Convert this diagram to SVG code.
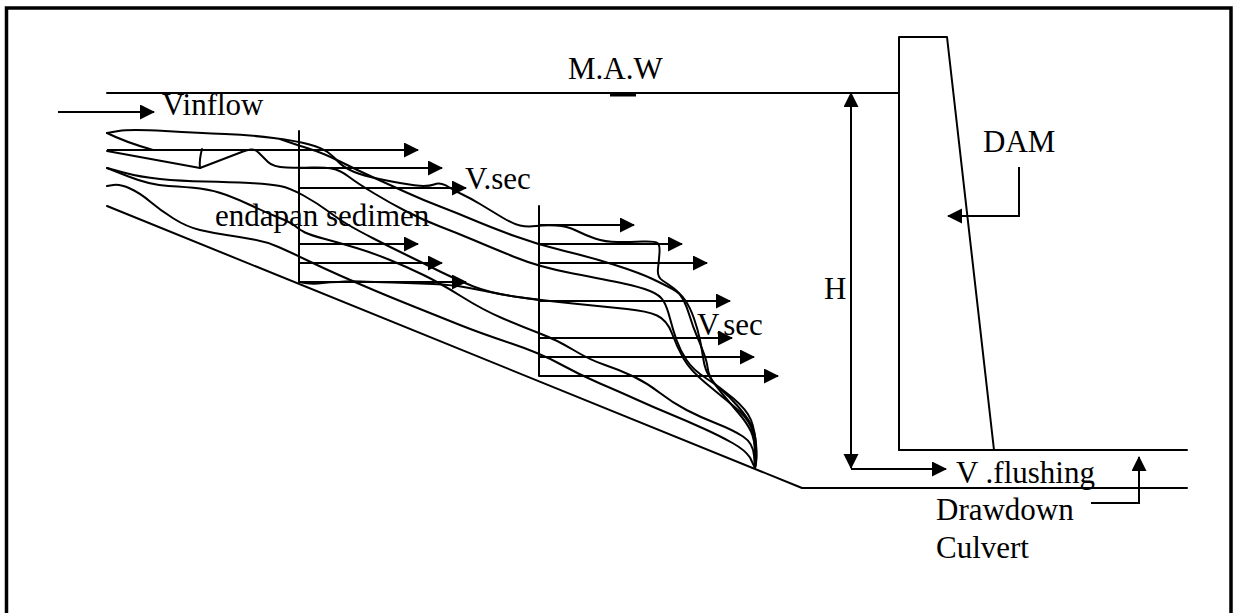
<svg xmlns="http://www.w3.org/2000/svg" width="1240" height="613" viewBox="0 0 1240 613">
  <style>
    .ln { fill: none; stroke: #000; stroke-width: 2; stroke-linejoin: round; stroke-linecap: round; }
    .ar { fill: none; stroke: #000; stroke-width: 2; marker-end: url(#head); }
    .lbl { font-family: "Liberation Serif", "Times New Roman", serif; font-size: 31px; fill: #000; }
  </style>
  <defs>
    <marker id="head" markerUnits="userSpaceOnUse" markerWidth="16" markerHeight="16" refX="14" refY="7.5" orient="auto">
      <path d="M0,0 L15,7.5 L0,15 z" fill="#000"/>
    </marker>
    <marker id="headStart" markerUnits="userSpaceOnUse" markerWidth="16" markerHeight="16" refX="14" refY="7.5" orient="auto-start-reverse">
      <path d="M0,0 L15,7.5 L0,15 z" fill="#000"/>
    </marker>
  </defs>

  <rect width="1240" height="613" fill="#fff"/>

  <!-- frame -->
  <rect id="frame" x="6.5" y="8" width="1224.5" height="640" fill="none" stroke="#000" stroke-width="3.5"/>

  <!-- reservoir water level and bed -->
  <g id="water-level">
    <line class="ln" x1="107" y1="93" x2="899" y2="93"/>
    <rect x="610" y="93" width="26" height="3.5" fill="#000"/>
    <text class="lbl" x="568" y="79">M.A.W</text>
  </g>
  <g id="bed">
    <polyline class="ln" points="107,206 802,488 1187,488"/>
  </g>

  <!-- dam body -->
  <g id="dam">
    <polyline class="ln" points="899,450 899,37 947,37 994,450"/>
    <line class="ln" x1="899" y1="450" x2="1187" y2="450"/>
    <text class="lbl" x="983" y="152">DAM</text>
  </g>

  <!-- sediment deposit layers -->
  <g id="sediment">
    <path class="ln" d="M107,133 L118.5,131 Q130,129 165,131 Q200,133 225,134 Q250,135 273.5,138 Q297,141 309.5,144.5 Q322,148 327.5,152 Q333,156 337.5,161 Q342,166 350,170 Q358,174 370.5,177 Q383,180 400,183 Q417,186 423.5,186 Q430,186 434,184.5 Q438,183 442,184 Q446,185 449.5,187.5 Q453,190 461.5,194 Q470,198 480,204 Q490,210 501.5,217 Q513,224 520,225.5 Q527,227 536,226 Q545,225 556,225.5 Q567,226 576,230.5 Q585,235 595,238.5 Q605,242 617.5,242 Q630,242 642.5,241.5 Q655,241 657.5,243 Q660,245 659.5,252.5 Q659,260 658,268.5 Q657,277 662.5,280.5 Q668,284 674,288.5 Q680,293 683.5,300 Q687,307 690,317 Q693,327 696.5,335 Q700,343 703.5,352.5 Q707,362 707.5,367 Q708,372 710.5,377.5 Q713,383 721.5,390 Q730,397 738.5,407 Q747,417 751,424.5 Q755,432 756,443.5 Q757,455 756,461.5 L755,468"/>
    <path class="ln" d="M107,133 Q125,142 153,150"/>
    <path class="ln" d="M280,139 L288.5,142 Q297,145 310,149 Q323,153 340,161.5 Q357,170 373.5,177.5 Q390,185 406.5,192.5 Q423,200 440,206.5 Q457,213 473.5,220 Q490,227 514.5,236 Q539,245 564.5,251 Q590,257 615,265 Q640,273 652.5,279 Q665,285 672.5,289 Q680,293 685,300 Q690,307 694,318.5 Q698,330 700,340 Q702,350 703.5,360 Q705,370 710,377.5 Q715,385 722.5,394 Q730,403 738.5,413 Q747,423 751,431.5 Q755,440 755,453.5 L755,467"/>
    <path class="ln" d="M107,151 L200,168"/>
    <path class="ln" d="M202,149 Q199,160 200,168"/>
    <path class="ln" d="M200,168 L243,151.5 Q247,150 251,149.5 Q255,149 259,153 Q263,157 268,162 Q273,167 286.5,167.5 Q300,168 311.5,167.5 Q323,167 331.5,168.5 Q340,170 348.5,176.5 Q357,183 373.5,193 Q390,203 406.5,211.5 Q423,220 440,226.5 Q457,233 473.5,240 Q490,247 514.5,257 Q539,267 573,273.5 Q607,280 623.5,283.5 Q640,287 650,291 Q660,295 663.5,301 Q667,307 670,318.5 Q673,330 676.5,340 Q680,350 686.5,360 Q693,370 706.5,378.5 Q720,387 733.5,398.5 Q747,410 751,420 Q755,430 756,446.5 Q757,463 755,468"/>
    <path class="ln" d="M107,168 L123.5,172.5 Q140,177 160,179 Q180,181 205,181.5 Q230,182 250,183 Q270,184 280,186 Q290,188 303.5,195.5 Q317,203 328.5,211.5 Q340,220 348.5,225 Q357,230 373.5,238.5 Q390,247 406.5,255 Q423,263 440,271.5 Q457,280 473.5,286.5 Q490,293 514.5,296.5 Q539,300 573,303.5 Q607,307 627,309 Q647,311 657,315.5 Q667,320 672,333.5 Q677,347 683.5,358.5 Q690,370 705,382.5 Q720,395 733.5,406 Q747,417 751,427 Q755,437 755,452.5 L755,468"/>
    <path class="ln" d="M107,168 L128.5,176.5 Q150,185 168.5,186 Q187,187 200,188.5 Q213,190 226.5,195 Q240,200 253.5,206.5 Q267,213 278.5,217.5 Q290,222 295,226 Q300,230 305,232.5 Q310,235 325,239 Q340,243 356.5,248 Q373,253 390,260 Q407,267 423.5,275 Q440,283 461.5,296.5 Q483,310 503,318.5 Q523,327 540,333.5 Q557,340 573.5,350 Q590,360 605,365 Q620,370 633.5,376.5 Q647,383 660,393 Q673,403 686.5,410 Q700,417 716.5,423.5 Q733,430 743,436.5 Q753,443 754,455.5 L755,468"/>
    <path class="ln" d="M107,186 L113.5,185 Q120,184 130,188.5 Q140,193 150,201.5 Q160,210 173.5,218.5 Q187,227 200,230 Q213,233 226.5,235 Q240,237 253.5,239.5 Q267,242 278.5,247 Q290,252 306.5,260 Q323,268 340,275.5 Q357,283 373.5,290 Q390,297 415,307 Q440,317 460,325 Q480,333 510,343 Q540,353 560,364 Q580,375 600,383.5 Q620,392 636.5,399.5 Q653,407 670,414 Q687,421 703.5,428.5 Q720,436 732.5,443 Q745,450 750,457.5 L755,468"/>
    <path class="ln" d="M299,282 Q312,285 322.5,283 Q330,282 338.5,282 Q347,281 360,281.5 Q373,282 393,282.5 Q413,283 433,284 Q453,285 466.5,287.5 Q480,290 495,293 Q510,296 524.5,298 L539,300"/>
    <text class="lbl" x="215" y="226">endapan sedimen</text>
  </g>

  <!-- velocity profile at first section -->
  <g id="profile-1">
    <line class="ln" x1="299" y1="131" x2="299" y2="282"/>
    <text class="lbl" x="465" y="189">V.sec</text>
  </g>

  <!-- velocity profile at second section -->
  <g id="profile-2">
    <line class="ln" x1="539" y1="206" x2="539" y2="376"/>
    <text class="lbl" x="697" y="335">V.sec</text>
  </g>

  <g id="inflow">
    <text class="lbl" x="162" y="115">Vinflow</text>
  </g>

  <g id="head-h">
    <text class="lbl" x="824" y="299">H</text>
  </g>

  <g id="flushing">
    <text class="lbl" x="956" y="483">V .flushing</text>
  </g>

  <g id="culvert">
    <text class="lbl" x="936" y="520">Drawdown</text>
    <text class="lbl" x="936" y="558">Culvert</text>
  </g>

  <!-- arrows and leaders -->
  <g id="connectors">
    <line class="ar" x1="58" y1="112" x2="154" y2="112"/>
    <line class="ar" x1="107" y1="150" x2="418" y2="150"/>
    <line class="ar" x1="299" y1="168" x2="442" y2="168"/>
    <line class="ar" x1="299" y1="188" x2="466" y2="188"/>
    <line class="ar" x1="299" y1="244" x2="418" y2="244"/>
    <line class="ar" x1="299" y1="263" x2="442" y2="263"/>
    <line class="ar" x1="299" y1="282" x2="466" y2="282"/>

    <line class="ar" x1="539" y1="225" x2="634" y2="225"/>
    <line class="ar" x1="539" y1="244" x2="682" y2="244"/>
    <line class="ar" x1="539" y1="263" x2="707" y2="263"/>
    <line class="ar" x1="539" y1="301" x2="730" y2="301"/>
    <line class="ar" x1="539" y1="338" x2="732" y2="338"/>
    <line class="ar" x1="539" y1="357" x2="754" y2="357"/>
    <line class="ar" x1="539" y1="376" x2="778" y2="376"/>

    <line class="ar" x1="851" y1="468" x2="851" y2="93" marker-start="url(#headStart)"/>
    <line class="ar" x1="851" y1="469" x2="946" y2="469"/>
    <polyline class="ar" points="1019,167 1019,216 948,216"/>
    <polyline class="ar" points="1091,503 1139,503 1139,457"/>
  </g>
</svg>
